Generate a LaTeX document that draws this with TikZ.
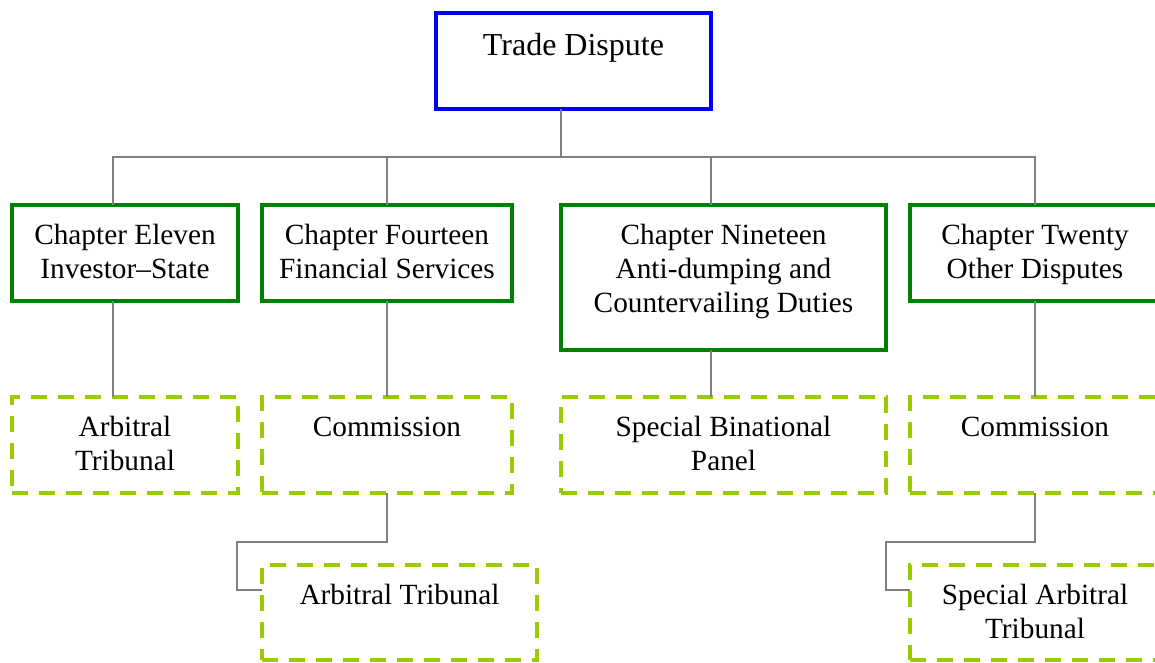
\documentclass[tikz,border=0pt]{standalone}
\usepackage{fontspec}
\setmainfont{Liberation Serif}
\definecolor{tdblue}{RGB}{0,0,255}
\definecolor{chgreen}{RGB}{0,128,0}
\definecolor{litegreen}{RGB}{153,204,0}
\definecolor{lngray}{RGB}{128,128,128}
\newcommand{\bxt}[4][39]{\parbox[t][#3pt][t]{#2pt}{\centering\rule{0pt}{#1pt}#4}}
\tikzset{
  basebox/.style={rectangle, inner sep=0pt, outer sep=0pt, anchor=north west, line width=3.2pt, fill=white,
    font=\fontsize{29.3}{34}\selectfont},
  bluebox/.style={basebox, draw=tdblue, font=\fontsize{32}{36}\selectfont},
  greenbox/.style={basebox, draw=chgreen},
  dashbox/.style={basebox, draw=litegreen, line width=3.6pt, dash pattern=on 16pt off 11pt},
  conn/.style={draw=lngray, line width=2pt}
}
\begin{document}
\begin{tikzpicture}[x=1pt,y=-1pt]
\useasboundingbox (0,0) rectangle (1155,662);
\coordinate (bus) at (561,157);
\coordinate (k14) at (237,542);
\coordinate (k20) at (886,542);
% boxes
\node[bluebox] (td) at (436,13) {\bxt[42]{275}{96}{Trade Dispute}};
\node[greenbox] (c11) at (12,205) {\bxt{226}{96}{Chapter Eleven\\Investor–State}};
\node[greenbox] (c14) at (262,205) {\bxt{250}{96}{Chapter Fourteen\\Financial Services}};
\node[greenbox] (c19) at (561,205) {\bxt{325}{145}{Chapter Nineteen\\Anti-dumping and\\Countervailing Duties}};
\node[greenbox] (c20) at (910,205) {\bxt{250}{96}{Chapter Twenty\\Other Disputes}};
\node[dashbox] (a11) at (12,397) {\bxt{226}{96}{Arbitral\\Tribunal}};
\node[dashbox] (com14) at (262,397) {\bxt{250}{96}{Commission}};
\node[dashbox] (sbp) at (561,397) {\bxt{325}{96}{Special Binational\\Panel}};
\node[dashbox] (com20) at (910,397) {\bxt{250}{96}{Commission}};
\node[dashbox] (at14) at (262,565) {\bxt{275}{95}{Arbitral Tribunal}};
\node[dashbox] (sat) at (910,565) {\bxt{250}{95}{Special Arbitral\\Tribunal}};
% connectors
\draw[conn] (td.south -| bus) -- (bus);
\draw[conn] (bus) -| ([xshift=-12pt]c11.north);
\draw[conn] (bus) -| (c14.north);
\draw[conn] (bus) -| ([xshift=-12.5pt]c19.north);
\draw[conn] (bus) -| (c20.north);
\draw[conn] ([xshift=-12pt]c11.south) -- ([xshift=-12pt]c11.south |- a11.north);
\draw[conn] (c14.south) -- (com14.north);
\draw[conn] ([xshift=-12.5pt]c19.south) -- ([xshift=-12.5pt]c19.south |- sbp.north);
\draw[conn] (c20.south) -- (com20.north);
\draw[conn] (com14.south) |- (k14) |- ([yshift=-25pt]at14.north west);
\draw[conn] (com20.south) |- (k20) |- ([yshift=-25pt]sat.north west);
\end{tikzpicture}
\end{document}
